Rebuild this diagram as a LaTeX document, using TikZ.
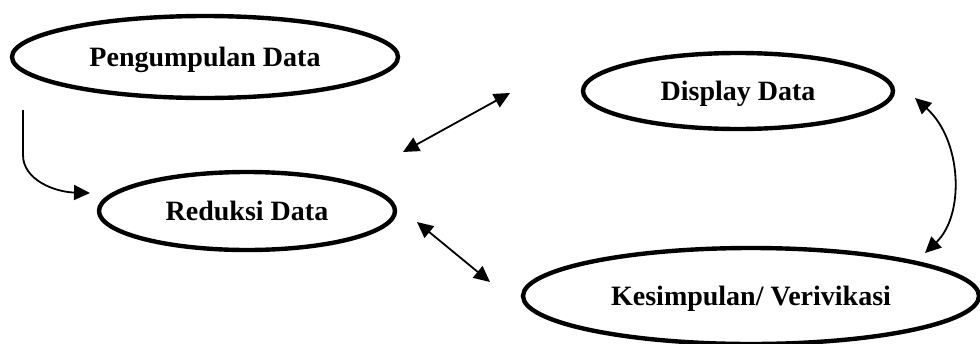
\documentclass[tikz,border=0pt]{standalone}
\usepackage{fontspec}
\setmainfont{Liberation Serif}
\usetikzlibrary{shapes.geometric,arrows.meta}
\tikzset{
  stage/.style={ellipse, draw, line width=2.2pt, inner sep=0pt, text depth=0pt,
    font=\fontsize{14}{16}\selectfont\bfseries},
  link/.style={line width=0.9pt, -{Triangle[length=8pt,width=7.5pt]}},
  dlink/.style={line width=0.9pt, {Triangle[length=8pt,width=7.5pt]}-{Triangle[length=8pt,width=7.5pt]}}
}
\begin{document}
\begin{tikzpicture}[x=0.5pt,y=-0.5pt]
\useasboundingbox (0,0) rectangle (980,343);
\node[stage, minimum width=193pt, minimum height=41pt] (pd) at (205,57) {Pengumpulan Data};
\node[stage, minimum width=155pt, minimum height=38pt] (dd) at (738,91) {Display Data};
\node[stage, minimum width=148pt, minimum height=39pt] (rd) at (247,211) {Reduksi Data};
\node[stage, minimum width=228pt, minimum height=48pt] (kv) at (751,296) {Kesimpulan/ Verivikasi};
% connector end points
\coordinate (p1) at (23,110);
\coordinate (r1) at (90,193);
\coordinate (r2) at (403,152);
\coordinate (d1) at (510,93);
\coordinate (r3) at (417,222);
\coordinate (k1) at (490,282);
\coordinate (d2) at (915,98);
\coordinate (k2) at (925,253);
\draw[link] (p1) -- (23,155) .. controls (23,180) and (55,192) .. (r1);
\draw[dlink] (r2) -- (d1);
\draw[dlink] (r3) -- (k1);
\draw[dlink] (d2) .. controls (962,140) and (965,215) .. (k2);
\end{tikzpicture}
\end{document}
